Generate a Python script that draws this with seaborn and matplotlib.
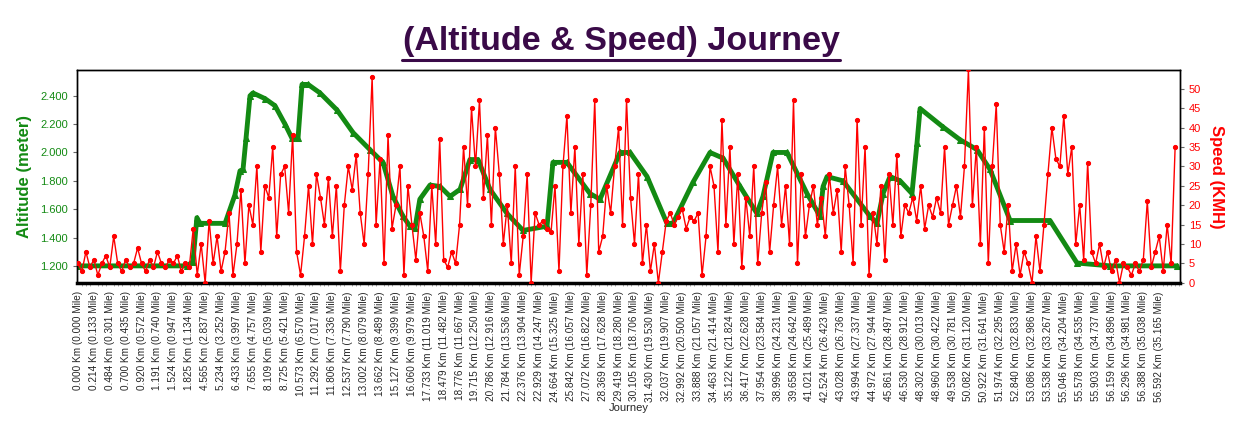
import numpy as np
import pandas as pd
import matplotlib
matplotlib.use("Agg")
import matplotlib.pyplot as plt
import seaborn as sns

tick_labels = [
"0.000 Km (0.000 Mile)","0.214 Km (0.133 Mile)","0.484 Km (0.301 Mile)","0.700 Km (0.435 Mile)",
"0.920 Km (0.572 Mile)","1.191 Km (0.740 Mile)","1.524 Km (0.947 Mile)","1.825 Km (1.134 Mile)",
"4.565 Km (2.837 Mile)","5.234 Km (3.252 Mile)","6.433 Km (3.997 Mile)","7.655 Km (4.757 Mile)",
"8.109 Km (5.039 Mile)","8.725 Km (5.421 Mile)","10.573 Km (6.570 Mile)","11.292 Km (7.017 Mile)",
"11.806 Km (7.336 Mile)","12.537 Km (7.790 Mile)","13.002 Km (8.079 Mile)","13.662 Km (8.489 Mile)",
"15.127 Km (9.399 Mile)","16.060 Km (9.979 Mile)","17.733 Km (11.019 Mile)","18.479 Km (11.482 Mile)",
"18.776 Km (11.667 Mile)","19.715 Km (12.250 Mile)","20.786 Km (12.916 Mile)","21.784 Km (13.536 Mile)",
"22.376 Km (13.904 Mile)","22.929 Km (14.247 Mile)","24.664 Km (15.325 Mile)","25.842 Km (16.057 Mile)",
"27.072 Km (16.822 Mile)","28.369 Km (17.628 Mile)","29.419 Km (18.280 Mile)","30.105 Km (18.706 Mile)",
"31.430 Km (19.530 Mile)","32.037 Km (19.907 Mile)","32.992 Km (20.500 Mile)","33.888 Km (21.057 Mile)",
"34.463 Km (21.414 Mile)","35.122 Km (21.824 Mile)","36.417 Km (22.628 Mile)","37.954 Km (23.584 Mile)",
"38.996 Km (24.231 Mile)","39.658 Km (24.642 Mile)","41.021 Km (25.489 Mile)","42.524 Km (26.423 Mile)",
"43.028 Km (26.736 Mile)","43.994 Km (27.337 Mile)","44.972 Km (27.944 Mile)","45.861 Km (28.497 Mile)",
"46.530 Km (28.912 Mile)","48.302 Km (30.013 Mile)","48.960 Km (30.422 Mile)","49.538 Km (30.781 Mile)",
"50.082 Km (31.120 Mile)","50.922 Km (31.641 Mile)","51.974 Km (32.295 Mile)","52.840 Km (32.833 Mile)",
"53.086 Km (32.986 Mile)","53.538 Km (33.267 Mile)","55.046 Km (34.204 Mile)","55.578 Km (34.535 Mile)",
"55.903 Km (34.737 Mile)","56.159 Km (34.896 Mile)","56.296 Km (34.981 Mile)","56.388 Km (35.038 Mile)",
"56.592 Km (35.165 Mile)"]

# altitude samples: position along journey (label index units) and metres
altitude_pos = [0,6.86,7.23,7.48,7.67,9.25,9.87,10.19,10.38,10.57,10.82,11.0,11.76,12.39,13.02,13.46,13.84,
 14.09,14.47,15.22,16.29,17.30,18.36,19.18,19.81,20.44,20.88,21.2,21.5,22.14,22.77,23.40,24.03,24.65,25.16,
 25.91,26.98,27.99,29.50,29.87,30.75,32.20,32.83,34.09,34.72,35.79,37.04,37.42,38.68,39.75,40.57,41.64,42.70,
 43.08,43.71,44.59,45.85,46.67,46.86,47.11,48.11,49.81,50.25,50.63,51.07,51.70,52.45,52.77,52.96,54.40,55.47,
 56.54,57.36,58.62,61.13,62.83,64.91,69.12]
altitude_m = [1200,1200,1230,1540,1500,1500,1700,1870,1880,2100,2400,2420,2380,2330,2200,2100,2100,
 2480,2480,2420,2300,2140,2020,1930,1690,1550,1480,1470,1670,1770,1760,1690,1740,1950,1950,
 1740,1570,1450,1480,1930,1930,1710,1670,2000,2000,1830,1500,1500,1790,2000,1960,1760,1570,
 1690,2000,2000,1710,1550,1760,1830,1800,1550,1500,1710,1830,1800,1710,2070,2310,2180,2090,
 2020,1880,1520,1520,1220,1200,1200]

# speed (km/h), 4 samples per label interval
speed_kmh = [
5,3,8,4, 6,2,5,7, 4,12,5,3, 6,4,5,9, 5,3,6,4, 8,5,4,6, 5,7,3,5,
4,14,2,10, 0,16,5,12, 3,8,18,2, 10,24,5,20, 15,30,8,25, 22,35,12,28, 30,18,38,8,
2,12,25,10, 28,22,15,27, 12,25,3,20, 30,24,33,18, 10,28,53,15, 32,5,38,14, 20,30,2,25,
15,6,18,12, 3,25,10,37, 6,4,8,5, 15,35,20,45, 30,47,22,38, 15,40,28,10, 20,5,30,2,
12,28,0,18, 15,16,14,13, 25,3,30,43, 18,35,10,28, 2,20,47,8, 12,25,18,30, 40,15,47,22,
10,28,5,15, 3,10,0,8, 16,18,15,17, 19,14,17,16, 18,2,12,30, 25,8,42,15, 35,10,28,4,
22,12,30,5, 18,26,8,20, 30,15,25,10, 47,5,28,12, 20,25,15,22, 12,28,18,24, 8,30,20,5,
42,15,35,2, 18,10,25,6, 28,15,33,12, 20,18,22,16, 25,14,20,17, 22,18,35,15, 20,25,17,30,
55,20,35,10, 40,5,30,46, 15,8,20,3, 10,2,8,5, 0,12,3,15, 28,40,32,30, 43,28,35,10,
20,6,31,8, 5,10,4,8, 3,6,0,5, 4,2,5,3, 6,21,4,8, 12,3,15,5, 35]

sns.set_style("white")
plt.rcParams['font.family'] = ['Liberation Sans', 'DejaVu Sans']

fig = plt.figure(figsize=(12.42, 4.42), dpi=100)
ax = fig.add_axes([0.062, 0.360, 0.888, 0.482])
ax2 = ax.twinx()

alt_df = pd.DataFrame({"pos": altitude_pos, "alt": altitude_m})
spd_df = pd.DataFrame({"pos": np.arange(len(speed_kmh)) / 4.0, "spd": speed_kmh})

green = "#138a13"
red = "#ff0000"
sns.lineplot(data=alt_df, x="pos", y="alt", ax=ax, color=green, lw=3.5,
             marker="^", markersize=4, markeredgecolor=green, zorder=2)
sns.lineplot(data=spd_df, x="pos", y="spd", ax=ax2, color=red, lw=1,
             marker="o", markersize=3, markeredgecolor=red, zorder=3)

ax.set_xlim(-0.06, 69.3)
ax.set_ylim(1080, 2583)
ax2.set_ylim(0, 54.9)

ax.set_xticks(range(len(tick_labels)))
ax.set_xticklabels(tick_labels, rotation=90, fontsize=7.2)
ax.set_xticks(np.arange(0, 69.3, 0.25), minor=True)
ax.tick_params(axis='x', which='major', length=4, color='#666666', pad=2)
ax.tick_params(axis='x', which='minor', length=2, color='#999999', bottom=True)

alt_ticks = list(range(1200, 2401, 200))
ax.set_yticks(alt_ticks)
ax.set_yticklabels([f"{t//1000}.{t%1000:03d}" for t in alt_ticks], color=green, fontsize=8)
ax.tick_params(axis='y', length=3, color='#666666', left=True)
spd_ticks = list(range(0, 51, 5))
ax2.set_yticks(spd_ticks)
ax2.set_yticklabels([str(t) for t in spd_ticks], color=red, fontsize=8)
ax2.tick_params(axis='y', length=3, color='#666666', right=True)

ax.set_xlabel("Journey", fontsize=8, labelpad=1)
ax.set_ylabel("Altitude (meter)", color=green, fontsize=12, fontweight='bold', labelpad=6)
ax2.set_ylabel("Speed (KMH)", color=red, fontsize=12, fontweight='bold', rotation=270, labelpad=16)

for a in (ax, ax2):
    for s in a.spines.values():
        s.set_color('black')
        s.set_linewidth(1)
ax2.spines['bottom'].set_linewidth(2.5)

fig.text(0.5, 0.905, "(Altitude & Speed) Journey", ha='center', va='center',
         fontsize=24.5, fontweight='bold', color='#3a0a48')
fig.add_artist(plt.Line2D([0.324, 0.676], [0.864, 0.864], color='#3a0a48', lw=2.2))

fig.savefig("out.png", dpi=100)
